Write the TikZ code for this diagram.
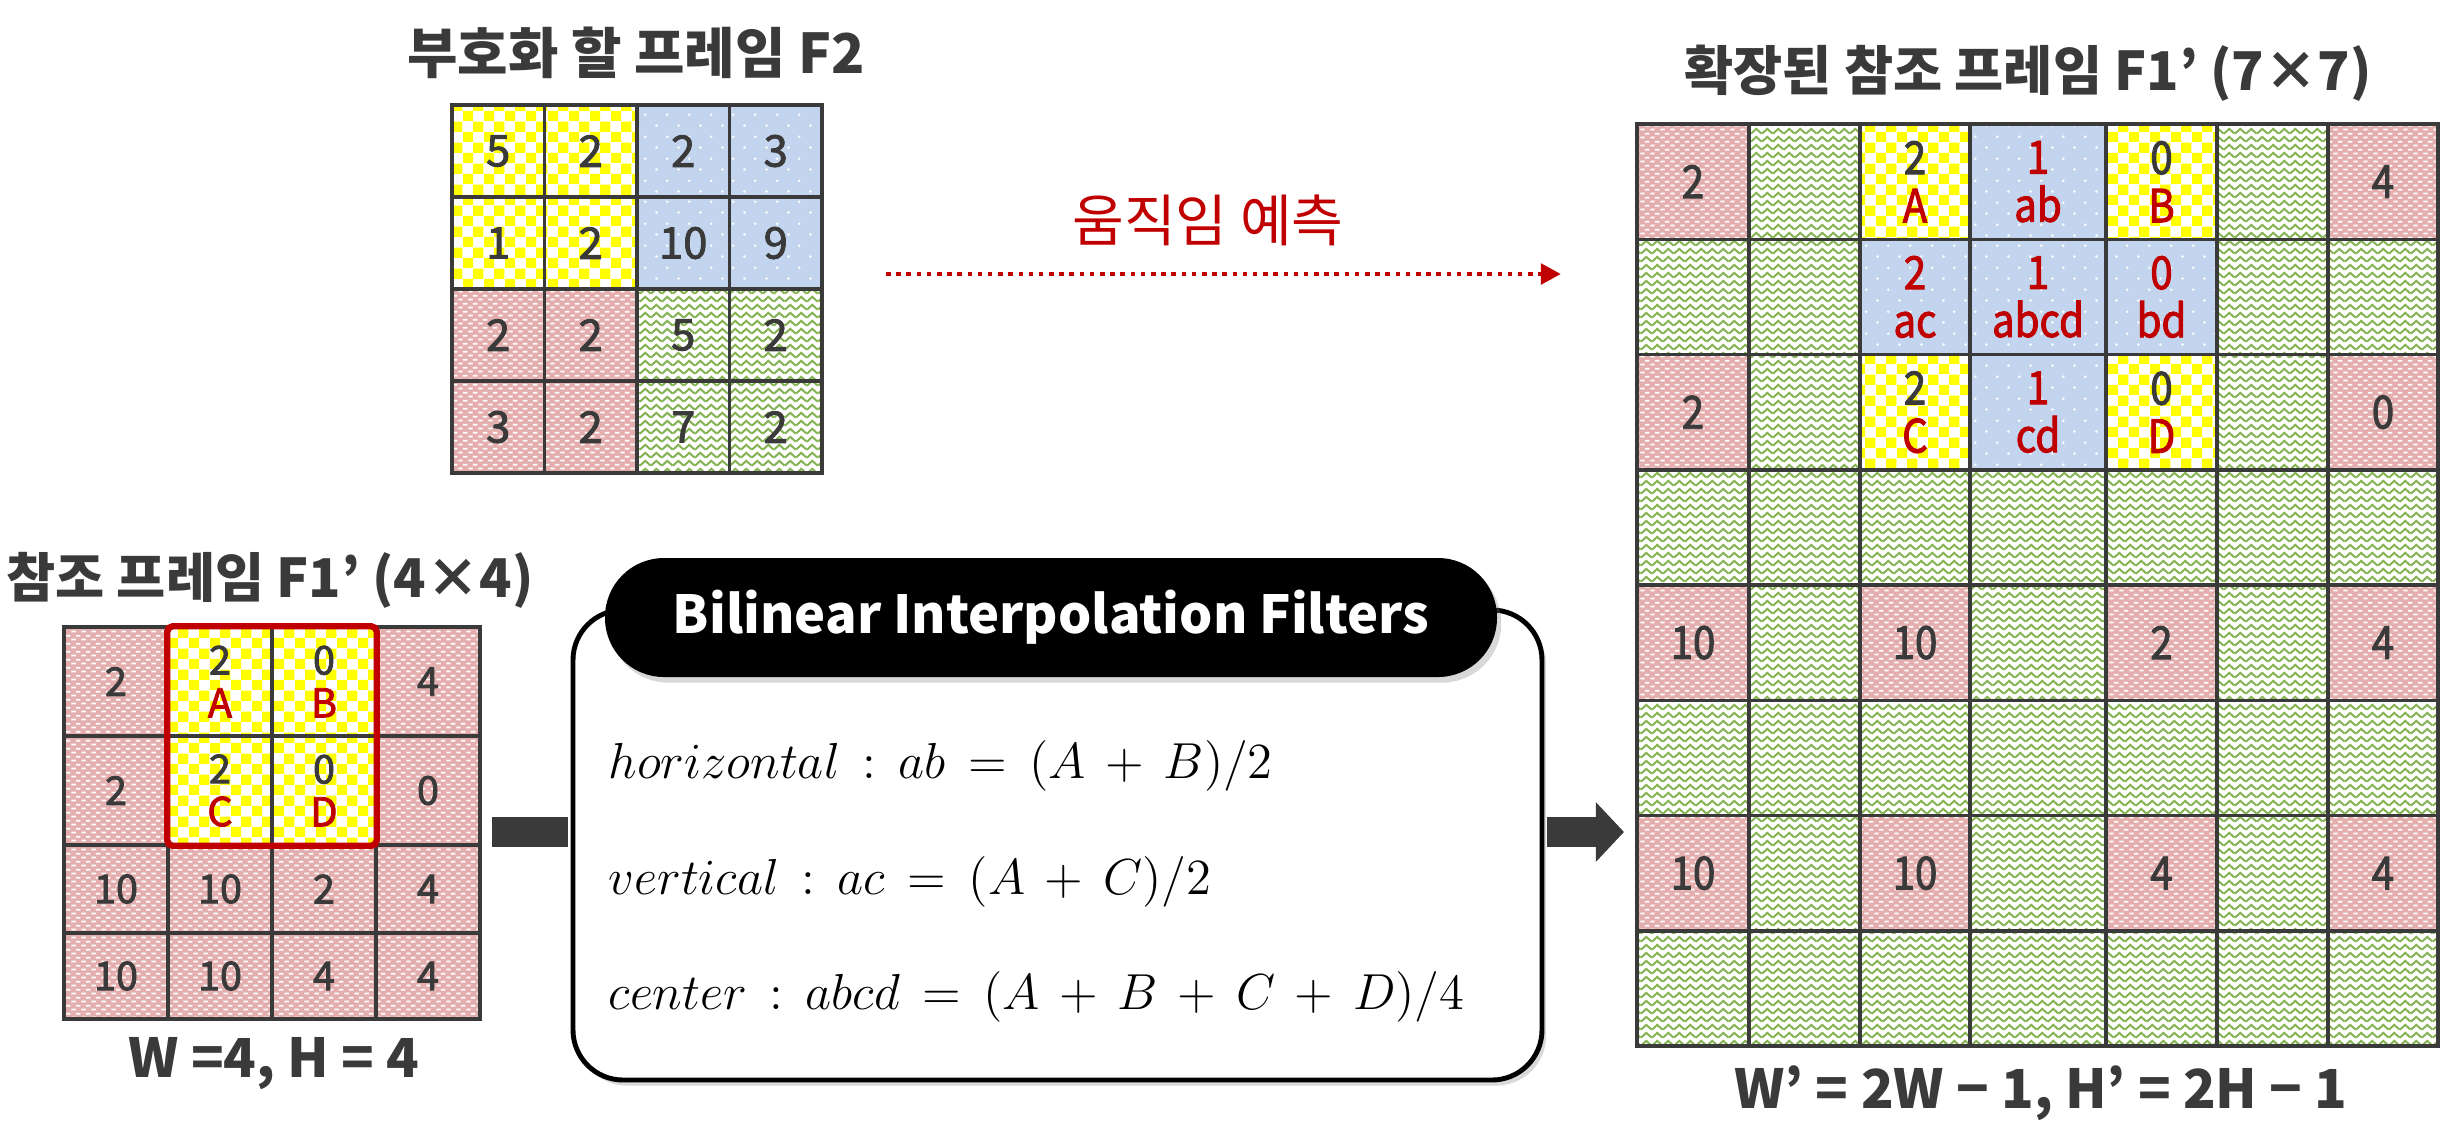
\documentclass[tikz,border=0pt]{standalone}
\usepackage{fontspec}
\usepackage{xcolor}
\usetikzlibrary{arrows.meta,patterns,shadows}
\setmainfont{Noto Sans CJK KR}
\newfontfamily\cellfont{Noto Sans CJK KR}[FakeBold=2]
\newfontfamily\extfont{Noto Sans CJK KR}[FakeBold=2, FakeStretch=0.88]

\definecolor{inkgray}{HTML}{3A3A3A}
\definecolor{markred}{HTML}{C00000}
\definecolor{cellyellow}{HTML}{FFFF00}
\definecolor{cellblue}{HTML}{C3D5EE}
\definecolor{cellpink}{HTML}{E4AEAE}
\definecolor{cellgreen}{HTML}{86B354}

%% 셀 무늬
\pgfdeclarepatternformonly{checkers}{\pgfpointorigin}{\pgfqpoint{6pt}{6pt}}{\pgfqpoint{6pt}{6pt}}{%
  \pgfpathrectangle{\pgfpointorigin}{\pgfqpoint{3pt}{3pt}}%
  \pgfpathrectangle{\pgfqpoint{3pt}{3pt}}{\pgfqpoint{3pt}{3pt}}%
  \pgfusepath{fill}}
\pgfdeclarepatternformonly{sparsedots}{\pgfpointorigin}{\pgfqpoint{6.2pt}{6.2pt}}{\pgfqpoint{6.2pt}{6.2pt}}{%
  \pgfpathcircle{\pgfqpoint{1pt}{1pt}}{0.4pt}%
  \pgfpathcircle{\pgfqpoint{4.1pt}{4.1pt}}{0.4pt}%
  \pgfusepath{fill}}
\pgfdeclarepatternformonly{pinkdashes}{\pgfpointorigin}{\pgfqpoint{2.9pt}{2.3pt}}{\pgfqpoint{2.9pt}{2.3pt}}{%
  \pgfpathrectangle{\pgfqpoint{0.1pt}{0.2pt}}{\pgfqpoint{1.35pt}{0.55pt}}%
  \pgfpathrectangle{\pgfqpoint{1.5pt}{1.35pt}}{\pgfqpoint{1.35pt}{0.55pt}}%
  \pgfusepath{fill}}
\pgfdeclarepatternformonly{zigzag}{\pgfpointorigin}{\pgfqpoint{3.2pt}{2.2pt}}{\pgfqpoint{3.2pt}{2.2pt}}{%
  \pgfsetlinewidth{0.6pt}%
  \pgfpathmoveto{\pgfqpoint{0pt}{0.4pt}}%
  \pgfpathlineto{\pgfqpoint{1.6pt}{1.8pt}}%
  \pgfpathlineto{\pgfqpoint{3.2pt}{0.4pt}}%
  \pgfusepath{stroke}}

\newcommand\pixpair[2]{#1\\\textcolor{markred}{#2}}
\newcommand\midpair[2]{\textcolor{markred}{#1}\\\textcolor{markred}{#2}}
\newcommand\eqspacing{\thickmuskip=8mu\relax\medmuskip=7mu\relax}

\begin{document}
\begin{tikzpicture}[
  x=0.1mm, y=-0.1mm,
  every node/.style={text=inkgray},
  title/.style={font=\fontsize{15.6}{18}\selectfont\bfseries},
  sizelabel/.style={font=\fontsize{15.3}{18}\selectfont\bfseries},
  f2num/.style={font=\fontsize{12.4}{14}\selectfont\cellfont, align=center, inner sep=0pt},
  refnum/.style={font=\fontsize{11.3}{12.2}\selectfont\cellfont, align=center, inner sep=0pt},
  extnum/.style={font=\fontsize{13}{13.7}\selectfont\extfont, align=center, inner sep=0pt},
  yellowcell/.style={preaction={fill=white}, pattern=checkers, pattern color=cellyellow},
  bluecell/.style={preaction={fill=cellblue}, pattern=sparsedots, pattern color=white},
  pinkcell/.style={preaction={fill=cellpink}, pattern=pinkdashes, pattern color=white},
  greencell/.style={preaction={fill=white}, pattern=zigzag, pattern color=cellgreen},
  gridline/.style={inkgray, line width=1pt, line cap=rect},
  selbox/.style={markred, line width=1.8pt, rounded corners=1.5pt},
  filterbody/.style={draw=black, line width=1.4pt, fill=white, rounded corners=5mm,
    drop shadow={shadow xshift=1.2pt, shadow yshift=-1.6pt, opacity=0.3}},
  filterhead/.style={fill=black, text=white, rounded corners=5.9mm, inner sep=0pt,
    font=\fontsize{14.9}{17}\selectfont\bfseries,
    drop shadow={shadow xshift=1.2pt, shadow yshift=-1.6pt, opacity=0.3}},
  eqn/.style={text=black, anchor=base west, inner sep=0pt, font=\fontsize{14.3}{16}\selectfont},
  motion/.style={markred, line width=1.4pt, dash pattern=on 1.3pt off 1.6pt,
    -{Triangle[length=5.7pt, width=5.7pt]}},
  motionlabel/.style={text=markred, font=\fontsize{16}{19}\selectfont},
  blockbar/.style={inkgray, line width=8.5pt},
  blockarrow/.style={inkgray, line width=8.5pt, -{Triangle[length=8pt, width=16.5pt]}}
]
\useasboundingbox (0,0) rectangle (2456,1132);

%% ==== 부호화 할 프레임 F2 ==========================================
\node[title] (f2title) at (636,53) {부호화 할 프레임 F2};

\foreach \r/\c/\kind/\val in {1/1/yellowcell/5, 1/2/yellowcell/2, 1/3/bluecell/2, 1/4/bluecell/3,
                              2/1/yellowcell/1, 2/2/yellowcell/2, 2/3/bluecell/10, 2/4/bluecell/9,
                              3/1/pinkcell/2, 3/2/pinkcell/2, 3/3/greencell/5, 3/4/greencell/2,
                              4/1/pinkcell/3, 4/2/pinkcell/2, 4/3/greencell/7, 4/4/greencell/2}
  \node[\kind, f2num, minimum width=9.25mm, minimum height=9.2mm] (f2-\r-\c)
    at ({452+92.5*(\c-0.5)},{105+92*(\r-0.5)}) {\val};

\foreach \i in {0,...,4} {
  \draw[gridline] ({452+92.5*\i},105) -- ({452+92.5*\i},473);
  \draw[gridline] (452,{105+92*\i}) -- (822,{105+92*\i});
}

%% ==== 움직임 예측 ==================================================
\coordinate (mvstart) at (886,274);
\coordinate (mvend) at (1561,274);
\draw[motion] (mvstart) -- (mvend);
\node[motionlabel] (mvlabel) at (1208,220) {움직임 예측};

%% ==== 참조 프레임 F1' (4x4) ========================================
\node[title, font=\fontsize{15.2}{18}\selectfont\bfseries] (reftitle) at (270,580) {참조 프레임 F1’ (4×4)};

\def\refrows{{627,736,845,933,1019}}
\foreach \r/\c/\kind/\val in {1/1/pinkcell/2, 1/2/yellowcell/{\pixpair{2}{A}}, 1/3/yellowcell/{\pixpair{0}{B}}, 1/4/pinkcell/4,
                              2/1/pinkcell/2, 2/2/yellowcell/{\pixpair{2}{C}}, 2/3/yellowcell/{\pixpair{0}{D}}, 2/4/pinkcell/0,
                              3/1/pinkcell/10, 3/2/pinkcell/10, 3/3/pinkcell/2, 3/4/pinkcell/4,
                              4/1/pinkcell/10, 4/2/pinkcell/10, 4/3/pinkcell/4, 4/4/pinkcell/4} {
  \pgfmathsetmacro\yt{\refrows[\r-1]}
  \pgfmathsetmacro\yb{\refrows[\r]}
  \node[\kind, refnum, minimum width=10.4mm, minimum height={(\yb-\yt)*0.1mm}] (ref-\r-\c)
    at ({64+104*(\c-0.5)},{(\yt+\yb)/2}) {\val};
}

\foreach \i in {0,...,4}
  \draw[gridline] ({64+104*\i},627) -- ({64+104*\i},1019);
\foreach \yy in {627,736,845,933,1019}
  \draw[gridline] (64,\yy) -- (480,\yy);

\draw[selbox] (ref-1-2.north west) rectangle (ref-2-3.south east);

\node[sizelabel] (refsize) at (274,1064) {W =4, H = 4};

%% ==== Bilinear Interpolation Filters ================================
\node[filterbody, minimum width=96.9mm, minimum height=47mm] (filterbox) at (1057.5,845) {};
\node[filterhead, minimum width=89.2mm, minimum height=11.9mm] (filterhead) at (1051,617.5)
  {Bilinear Interpolation Filters};

\node[eqn] (eqh) at (608,778) {\eqspacing$\mathnormal{horizontal} : \mathnormal{ab} = (A + B)/2$};
\node[eqn] (eqv) at (608,894) {\eqspacing$\mathnormal{vertical} : \mathnormal{ac} = (A + C)/2$};
\node[eqn] (eqc) at (608,1009) {\eqspacing$\mathnormal{center} : \mathnormal{abcd} = (A + B + C + D)/4$};

\coordinate (barstart) at (492,832);
\coordinate (arrowtip) at (1624,832);
\draw[blockbar, shorten >=0.7pt] (barstart) -- (filterbox.west |- barstart);
\draw[blockarrow, shorten <=0.7pt] (filterbox.east |- arrowtip) -- (arrowtip);

%% ==== 확장된 참조 프레임 F1' (7x7) ==================================
\node[title, font=\fontsize{15.2}{18}\selectfont\bfseries] (exttitle) at (2028,73) {확장된 참조 프레임 F1’ (7×7)};

\fill[greencell] (1637,124) rectangle (2438,1046);

\def\extcols{{1637,1749,1860,1970,2106,2217,2328,2438}}
\foreach \r/\c/\kind/\val in {1/1/pinkcell/2, 1/3/yellowcell/{\pixpair{2}{A}}, 1/4/bluecell/{\midpair{1}{ab}},
                              1/5/yellowcell/{\pixpair{0}{B}}, 1/7/pinkcell/4,
                              2/3/bluecell/{\midpair{2}{ac}}, 2/4/bluecell/{\midpair{1}{abcd}}, 2/5/bluecell/{\midpair{0}{bd}},
                              3/1/pinkcell/2, 3/3/yellowcell/{\pixpair{2}{C}}, 3/4/bluecell/{\midpair{1}{cd}},
                              3/5/yellowcell/{\pixpair{0}{D}}, 3/7/pinkcell/0,
                              5/1/pinkcell/10, 5/3/pinkcell/10, 5/5/pinkcell/2, 5/7/pinkcell/4,
                              7/1/pinkcell/10, 7/3/pinkcell/10, 7/5/pinkcell/4, 7/7/pinkcell/4} {
  \pgfmathsetmacro\xl{\extcols[\c-1]}
  \pgfmathsetmacro\xr{\extcols[\c]}
  \node[\kind, extnum, minimum width={(\xr-\xl)*0.1mm}, minimum height=11.525mm] (ext-\r-\c)
    at ({(\xl+\xr)/2},{124+115.25*(\r-0.5)}) {\val};
}

\foreach \xx in {1637,1749,1860,1970,2106,2217,2328,2438}
  \draw[gridline] (\xx,124) -- (\xx,1046);
\foreach \i in {0,...,8}
  \draw[gridline] (1637,{124+115.25*\i}) -- (2438,{124+115.25*\i});

\node[sizelabel] (extsize) at (2041,1093) {W’ = 2W − 1, H’ = 2H − 1};

\end{tikzpicture}
\end{document}
